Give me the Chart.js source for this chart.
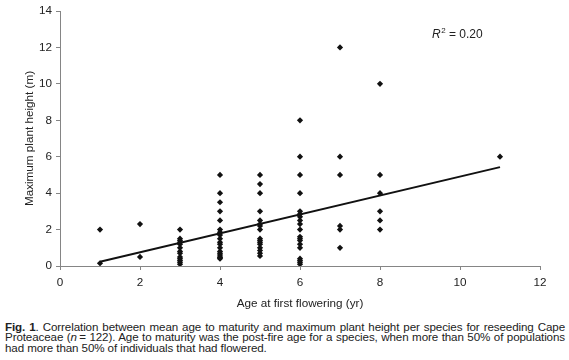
<!DOCTYPE html>
<html>
<head>
<meta charset="utf-8">
<script src="https://cdn.jsdelivr.net/npm/chart.js@4/dist/chart.umd.min.js"></script>
<style>
  body { margin: 0; background: #fff; }
  #wrap { position: relative; width: 569px; height: 360px; }
  #chart { position: absolute; left: 0; top: 0; }
  #caption {
    position: absolute; left: 5px; top: 321.5px; width: 560px;
    font-family: "Liberation Sans", Arial, sans-serif;
    font-size: 11.6px; line-height: 10.8px; color: #222;
    letter-spacing: -0.1px; white-space: nowrap;
  }
  #caption .full { text-align: justify; text-align-last: justify; }
</style>
</head>
<body>
<div id="wrap">
  <canvas id="chart" width="569" height="316"></canvas>
  <div id="caption">
    <div class="full"><b>Fig. 1</b>. Correlation between mean age to maturity and maximum plant height per species for reseeding Cape</div>
    <div class="full">Proteaceae (<i>n</i>&thinsp;= 122). Age to maturity was the post-fire age for a species, when more than 50% of populations</div>
    <div>had more than 50% of individuals that had flowered.</div>
  </div>
</div>
<script>
// age at first flowering (yr) and the heights (m) seen at each age
const ages = [1, 2, 3, 4, 5, 6, 7, 8, 11];
const heightsByAge = [
  [2, 0.15],
  [2.3, 0.5],
  [2, 1.5, 1.4, 1.3, 1.2, 1, 0.8, 0.7, 0.5, 0.4, 0.3, 0.2, 0.1],
  [5, 4, 3.5, 3, 2.5, 2, 1.85, 1.7, 1.5, 1.3, 1.2, 1, 0.8, 0.7, 0.6, 0.5, 0.45, 0.4],
  [5, 4.5, 4, 3, 2.5, 2.3, 2.2, 2, 1.5, 1.4, 1.3, 1.2, 1, 0.85, 0.7, 0.55],
  [8, 6, 5, 4, 3, 2.85, 2.7, 2.5, 2.3, 2, 1.6, 1.5, 1.4, 1.2, 1, 0.4, 0.3, 0.2, 0.1],
  [12, 6, 5, 2.2, 2, 1],
  [10, 5, 4, 3, 2.5, 2],
  [6]
];

// linear trend line ends
const trendAge = [1, 11];
const trendHeight = [0.23, 5.43];

const xTicks = [0, 2, 4, 6, 8, 10, 12];
const yTicks = [0, 2, 4, 6, 8, 10, 12, 14];
const r2Label = '0.20';

const points = [];
ages.forEach((a, i) => {
  heightsByAge[i].forEach(h => points.push({ x: a, y: h }));
});
const trend = trendAge.map((a, i) => ({ x: a, y: trendHeight[i] }));

const FONT = '"Liberation Sans", Arial, sans-serif';
const FS = 11.7;
const axisColor = '#858585';

// R² note in the top right
const r2Plugin = {
  id: 'r2note',
  afterDraw(chart) {
    const ctx = chart.ctx;
    let x = 432, y = 38;
    ctx.save();
    ctx.fillStyle = '#222';
    ctx.textBaseline = 'alphabetic';
    ctx.font = 'italic 12px ' + FONT;
    ctx.fillText('R', x, y);
    x += ctx.measureText('R').width + 0.5;
    ctx.font = '8px ' + FONT;
    ctx.fillText('2', x, y - 5);
    x += ctx.measureText('2').width;
    ctx.font = '12px ' + FONT;
    ctx.fillText(' = ' + r2Label, x, y);
    ctx.restore();
  }
};

new Chart(document.getElementById('chart'), {
  type: 'scatter',
  data: {
    datasets: [{
      data: points,
      pointStyle: 'rectRot',
      pointRadius: 3.1,
      backgroundColor: '#111',
      borderColor: '#111',
      borderWidth: 0
    }, {
      type: 'line',
      data: trend,
      borderColor: '#111',
      borderWidth: 2,
      pointRadius: 0,
      fill: false
    }]
  },
  options: {
    responsive: false,
    animation: false,
    layout: { padding: { top: 8, right: 29, left: 0, bottom: 0 } },
    plugins: {
      legend: { display: false },
      tooltip: { enabled: false }
    },
    scales: {
      x: {
        type: 'linear',
        min: 0,
        max: 12,
        afterBuildTicks: s => { s.ticks = xTicks.map(v => ({ value: v })); },
        afterFit: s => { s.height = 50; },
        grid: { drawOnChartArea: false, tickLength: 4, color: axisColor },
        border: { color: axisColor, width: 1 },
        ticks: { color: '#222', font: { family: FONT, size: FS }, padding: 6, maxRotation: 0 },
        title: {
          display: true,
          text: 'Age at first flowering (yr)',
          color: '#222',
          font: { family: FONT, size: FS },
          padding: { top: 0, bottom: 5 }
        }
      },
      y: {
        min: 0,
        max: 14,
        afterBuildTicks: s => { s.ticks = yTicks.map(v => ({ value: v })); },
        afterFit: s => { s.width = 60; },
        grid: { drawOnChartArea: false, tickLength: 4, color: axisColor },
        border: { color: axisColor, width: 1 },
        ticks: { color: '#222', font: { family: FONT, size: FS }, padding: 4 },
        title: {
          display: true,
          text: 'Maximum plant height (m)',
          color: '#222',
          font: { family: FONT, size: FS },
          padding: { top: 23, bottom: 0 }
        }
      }
    }
  },
  plugins: [r2Plugin]
});
</script>
</body>
</html>
